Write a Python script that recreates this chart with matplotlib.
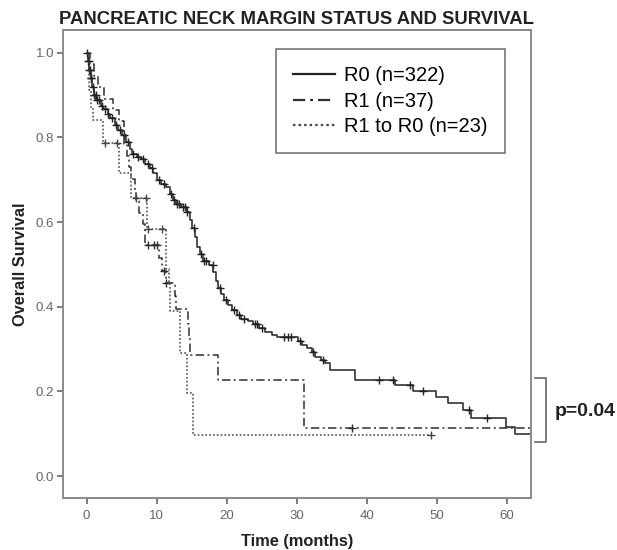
import matplotlib.pyplot as plt
import numpy as np
from matplotlib.lines import Line2D

plt.rcParams['font.family'] = ['Liberation Sans', 'DejaVu Sans']

# R0 (n=322) - step times (months) and survival after each step
r0_t = [0, 0.2, 0.4, 0.6, 0.8, 1.0, 1.4, 2.0, 2.4, 3.0, 3.4, 4.0, 4.5, 5.0, 5.7, 6.2,
        6.5, 7.2, 7.8, 8.4, 9.0, 9.5, 10.0, 10.6, 11.4, 11.9, 12.3, 12.8, 13.5, 14.3,
        14.7, 15.1, 15.5, 15.8, 16.2, 16.6, 17.4, 18.1, 18.4, 18.7, 19.2, 19.6, 20.2,
        20.7, 21.4, 22.0, 23.0, 23.8, 24.6, 25.4, 26.4, 27.2, 30.1, 30.7, 31.4, 32.1,
        32.6, 33.5, 34.0, 34.7, 38.3, 44.0, 46.6, 49.8, 51.5, 53.7, 54.9, 59.8, 61.1]
r0_s = [1.0, 0.98, 0.96, 0.94, 0.92, 0.90, 0.889, 0.875, 0.868, 0.855, 0.845, 0.83,
        0.818, 0.805, 0.79, 0.772, 0.76, 0.755, 0.748, 0.738, 0.728, 0.715, 0.70, 0.69,
        0.682, 0.666, 0.652, 0.642, 0.635, 0.625, 0.605, 0.585, 0.565, 0.542, 0.525,
        0.508, 0.498, 0.483, 0.46, 0.444, 0.43, 0.416, 0.403, 0.392, 0.381, 0.372,
        0.366, 0.36, 0.35, 0.341, 0.334, 0.328, 0.318, 0.31, 0.302, 0.294, 0.282,
        0.274, 0.266, 0.251, 0.227, 0.215, 0.20, 0.187, 0.172, 0.155, 0.137, 0.115, 0.099]
r0_end = 63.4
r0_cens = [0.1, 0.2, 0.3, 0.4, 0.5, 0.6, 0.7, 0.9, 1.1, 1.3, 1.5, 1.8, 2.2, 2.6, 3.1,
           3.6, 4.2, 4.8, 5.3, 5.9, 6.7, 7.4, 8.1, 8.8, 9.3, 10.3, 11.0, 12.1, 12.5,
           12.9, 13.2, 13.7, 14.0, 14.4, 15.3, 16.4, 16.8, 17.0, 18.0, 19.0, 19.9,
           21.0, 21.7, 22.5, 24.0, 24.3, 25.0, 28.1, 28.7, 29.2, 30.5, 32.3, 33.7,
           41.7, 43.7, 46.1, 48.0, 54.5, 57.1]

# R1 (n=37)
r1_t = [0, 0.5, 1.0, 1.6, 2.5, 3.8, 4.6, 5.4, 5.8, 6.1, 6.4, 6.9, 7.1, 7.5, 8.0, 8.4,
        10.3, 10.8, 11.3, 12.6, 12.8, 14.5, 14.6, 14.8, 18.8, 31.0]
r1_s = [1.0, 0.973, 0.946, 0.919, 0.892, 0.865, 0.838, 0.784, 0.757, 0.730, 0.703,
        0.676, 0.649, 0.622, 0.595, 0.546, 0.515, 0.485, 0.456, 0.425, 0.395, 0.36,
        0.325, 0.286, 0.227, 0.113]
r1_end = 63.4
r1_cens = [8.8, 9.6, 10.0, 11.0, 11.4, 37.8]

# R1 to R0 (n=23)
rr_t = [0, 0.4, 0.7, 0.9, 2.4, 4.7, 6.4, 8.6, 11.4, 11.7, 11.9, 13.3, 14.3, 15.2]
rr_s = [1.0, 0.913, 0.87, 0.842, 0.787, 0.716, 0.657, 0.583, 0.49, 0.456, 0.39, 0.29,
        0.196, 0.097]
rr_end = 49.2
rr_cens = [2.6, 4.3, 7.0, 8.5, 8.7, 10.7, 49.2]

series = [
    ('R0 (n=322)', r0_t, r0_s, r0_end, r0_cens, '-', '#222222'),
    ('R1 (n=37)', r1_t, r1_s, r1_end, r1_cens, (0, (5.5, 2.2, 1.3, 2.2)), '#2e2e2e'),
    ('R1 to R0 (n=23)', rr_t, rr_s, rr_end, rr_cens, (0, (1.1, 1.4)), '#444444'),
]

fig = plt.figure(figsize=(6.17, 5.5), dpi=100)
ax = fig.add_axes([0.1016, 0.0945, 0.759, 0.851])

for label, t, s, end, cens, ls, col in series:
    tt = list(t) + [end]
    ss = list(s) + [s[-1]]
    ax.step(tt, ss, where='post', color=col, linestyle=ls, linewidth=1.1, label=label)
    idx = np.searchsorted(t, cens, side='right') - 1
    cy = np.array(s)[idx]
    ax.plot(cens, cy, linestyle='none', marker='+', markersize=6, markeredgewidth=1.0,
            color=col)

ax.set_xlim(-3.4, 63.4)
ax.set_ylim(-0.052, 1.054)
ax.set_xticks([0, 10, 20, 30, 40, 50, 60])
ax.set_yticks([0.0, 0.2, 0.4, 0.6, 0.8, 1.0])
ax.set_yticklabels(['0.0', '0.2', '0.4', '0.6', '0.8', '1.0'])
ax.tick_params(direction='out', length=4.5, width=1.4, colors='#7a7a7a',
               labelcolor='#666666', labelsize=9.5, pad=1.5)
ax.tick_params(axis='x', pad=4)
for sp in ax.spines.values():
    sp.set_color('#8a8a8a')
    sp.set_linewidth(1.4)

ax.set_title('PANCREATIC NECK MARGIN STATUS AND SURVIVAL', fontsize=13.3,
             fontweight='bold', color='#222222', pad=4)
ax.set_xlabel('Time (months)', fontsize=11.8, fontweight='bold', color='#222222',
              labelpad=9)
ax.set_ylabel('Overall Survival', fontsize=11.8, fontweight='bold', color='#222222',
              labelpad=6)

leg = ax.legend(loc='upper right', bbox_to_anchor=(0.9445, 0.959), borderaxespad=0,
                fancybox=False, frameon=True, fontsize=14.5, handlelength=2.1,
                borderpad=0.85, labelspacing=0.32, handletextpad=0.45)
leg.get_frame().set_edgecolor('#555555')
leg.get_frame().set_linewidth(1.2)
for h in leg.get_lines():
    h.set_linewidth(1.6)

# bracket and p-value
W, H = 617.0, 550.0
bx0, bx1, by0, by1 = 535 / W, 546 / W, 1 - 378 / H, 1 - 442 / H
fig.add_artist(Line2D([bx0, bx1, bx1, bx0], [by0, by0, by1, by1],
                      transform=fig.transFigure, color='#666666', linewidth=1.2))
fig.text(555 / W, 1 - 412 / H, 'p=0.04', fontsize=14, fontweight='bold',
         color='#222222', va='center', ha='left')

fig.savefig('out.png', dpi=100)
